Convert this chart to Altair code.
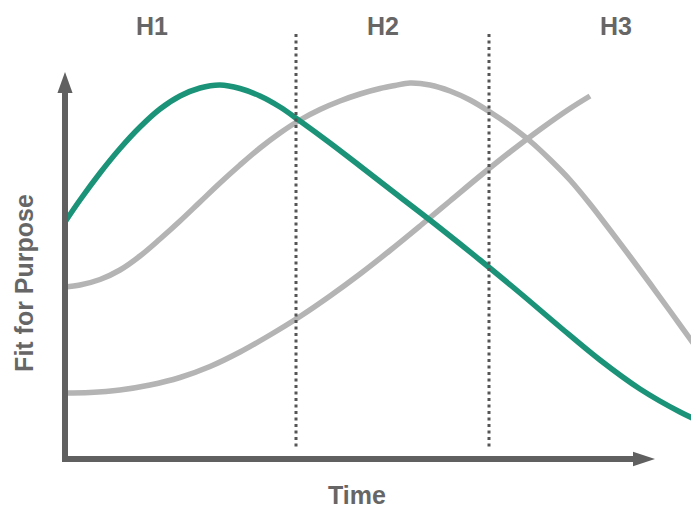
import altair as alt
import pandas as pd

# ---- data (time / fit units; axis origin = 0) ----
h1_time = [0, 1.5, 3.5, 5.5, 7.5, 9.5, 11.5, 13.5, 15.5, 17.5, 19.5, 21.5, 23.5, 26.5, 29.5, 33.5,
           37.5, 41.5, 45.5, 49.5, 53.5, 57.5, 61.5, 64.5]
h1_fit = [23.7, 25.9, 28.6, 31.05, 33.2, 35.0, 36.3, 37.1, 37.4, 37.05, 36.3, 35.2, 33.8, 31.6, 29.3, 26.2,
          23.1, 19.9, 16.6, 13.2, 9.9, 7.0, 4.7, 3.3]

h2_time = [0, 1.5, 3.5, 5.5, 7.5, 9.5, 11.5, 13.5, 15.5, 17.5, 19.5, 21.5, 23.5, 25.5, 27.5, 29.5, 31.5,
           33, 34.5, 36.5, 38.5, 40.5, 42.5, 44.5, 46.5, 48.5, 50.5, 52.5, 54.5, 56.5, 58.5, 60.5, 62.8]
h2_fit = [17.2, 17.4, 17.95, 18.9, 20.3, 22.0, 23.8, 25.7, 27.6, 29.4, 31.1, 32.6, 33.9, 34.95, 35.8, 36.5, 37.05,
          37.35, 37.6, 37.4, 36.8, 35.9, 34.7, 33.35, 31.8, 29.95, 27.9, 25.5, 22.9, 20.25, 17.55, 14.8, 11.6]

h3_time = [0, 2.5, 5.5, 8.5, 11.5, 14.5, 17.5, 20.5, 23.5, 26.5, 29.5, 32.5, 35.5, 38.5, 41.5, 44.5,
           47.5, 50.5, 52.5]
h3_fit = [6.6, 6.65, 6.9, 7.4, 8.15, 9.25, 10.7, 12.4, 14.25, 16.3, 18.5, 20.85, 23.3, 25.8, 28.3, 30.7,
          32.95, 35.05, 36.3]

horizon_labels = ["H1", "H2", "H3"]
horizon_label_time = [8.7, 31.8, 55.1]
horizon_boundaries = [23.1, 42.4]

x_title = "Time"
y_title = "Fit for Purpose"

GREEN = "#1a9378"
GRAY = "#b4b4b4"
AXIS = "#606060"
TEXT = "#666666"

xs = alt.Scale(domain=[0, 59], range=[57, 647], nice=False, zero=False)
ys = alt.Scale(domain=[0, 38.7], range=[451, 64], nice=False, zero=False)

rows = []
for name, ts, fs in [("H2", h2_time, h2_fit), ("H3", h3_time, h3_fit), ("H1", h1_time, h1_fit)]:
    for i, (t, f) in enumerate(zip(ts, fs)):
        rows.append({"series": name, "t": t, "f": f, "o": i})
curves = pd.DataFrame(rows)

X = lambda: alt.X("t:Q", scale=xs, axis=None)
Y = lambda: alt.Y("f:Q", scale=ys, axis=None)

lines = alt.Chart(curves).mark_line(
    strokeWidth=5.5, interpolate="catmull-rom", clip=True, strokeCap="butt"
).encode(
    x=X(), y=Y(),
    order="o:Q",
    color=alt.Color("series:N", scale=alt.Scale(domain=["H1", "H2", "H3"], range=[GREEN, GRAY, GRAY]), legend=None),
    detail="series:N",
)

axes_df = pd.DataFrame([
    {"t": 0, "t2": 0, "f": -0.2, "f2": 36.8},
    {"t": -0.3, "t2": 56.9, "f": 0, "f2": 0},
])
axes = alt.Chart(axes_df).mark_rule(strokeWidth=6, color=AXIS).encode(
    x=X(), x2="t2:Q", y=Y(), y2="f2:Q",
)

up_arrow = alt.Chart(pd.DataFrame({"t": [0], "f": [37.65]})).mark_point(
    shape="M0,-1L0.72,1L-0.72,1Z", filled=True, size=441, color=AXIS, opacity=1, strokeWidth=0
).encode(x=X(), y=Y())

right_arrow = alt.Chart(pd.DataFrame({"t": [57.9], "f": [0]})).mark_point(
    shape="M1,0L-1,-0.66L-1,0.66Z", filled=True, size=484, color=AXIS, opacity=1, strokeWidth=0
).encode(x=X(), y=Y())

bounds = alt.Chart(pd.DataFrame({"t": horizon_boundaries, "f": [42.5] * 2, "f2": [0.9] * 2})).mark_rule(
    strokeWidth=3, color="#555555", strokeDash=[3, 3.5]
).encode(x=X(), y=Y(), y2="f2:Q")

font = dict(font="Liberation Sans", fontWeight="bold", fontSize=25, color=TEXT)

hlabels = alt.Chart(pd.DataFrame({"t": horizon_label_time, "f": [42.4] * 3, "label": horizon_labels})).mark_text(
    baseline="alphabetic", align="center", **font
).encode(x=X(), y=Y(), text="label:N")

xtitle = alt.Chart(pd.DataFrame({"t": [29.2], "f": [-4.5], "label": [x_title]})).mark_text(
    baseline="alphabetic", align="center", **font
).encode(x=X(), y=Y(), text="label:N")

ytitle = alt.Chart(pd.DataFrame({"t": [-4.0], "f": [17.6], "label": [y_title]})).mark_text(
    baseline="middle", align="center", angle=270, **font
).encode(x=X(), y=Y(), text="label:N")

chart = alt.layer(lines, axes, up_arrow, right_arrow, bounds, hlabels, xtitle, ytitle).properties(
    width=683, height=503, autosize=alt.AutoSizeParams(type="none"), padding=0
).configure_view(stroke=None)

chart.save("out.html", embed_options={"renderer": "svg", "actions": False})
